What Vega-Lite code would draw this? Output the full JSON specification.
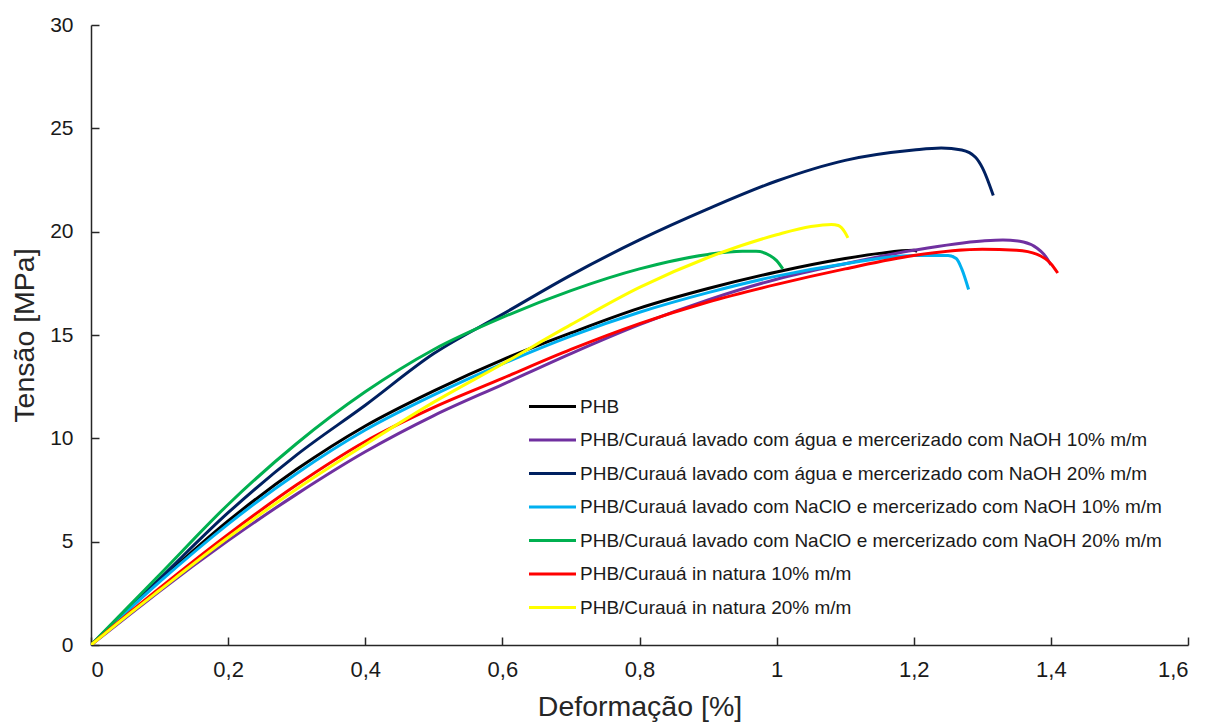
{
  "$schema": "https://vega.github.io/schema/vega-lite/v6.json",
  "autosize": {"type": "none"},
  "width": 1097,
  "height": 620,
  "padding": {"left": 91, "top": 25, "right": 20, "bottom": 77},
  "background": "white",
  "config": {
    "view": {"stroke": null},
    "font": "Liberation Sans",
    "axis": {
      "grid": false,
      "domainColor": "#262626",
      "domainWidth": 1.5,
      "tickColor": "#262626",
      "tickWidth": 1.5,
      "labelFont": "Liberation Sans",
      "labelColor": "#1a1a1a",
      "titleFont": "Liberation Sans",
      "titleFontSize": 28.5,
      "titleFontWeight": "normal",
      "titleColor": "#262626"
    }
  },
  "data": {
    "values": [
      {"serie": "PHB", "x": 0, "y": 0},
      {"serie": "PHB", "x": 0.05, "y": 1.58},
      {"serie": "PHB", "x": 0.1, "y": 3.1},
      {"serie": "PHB", "x": 0.2, "y": 6.0},
      {"serie": "PHB", "x": 0.3, "y": 8.5},
      {"serie": "PHB", "x": 0.4, "y": 10.6},
      {"serie": "PHB", "x": 0.5, "y": 12.3},
      {"serie": "PHB", "x": 0.6, "y": 13.8},
      {"serie": "PHB", "x": 0.7, "y": 15.1},
      {"serie": "PHB", "x": 0.8, "y": 16.3},
      {"serie": "PHB", "x": 0.9, "y": 17.25},
      {"serie": "PHB", "x": 1.0, "y": 18.05},
      {"serie": "PHB", "x": 1.1, "y": 18.7},
      {"serie": "PHB", "x": 1.15, "y": 18.95},
      {"serie": "PHB", "x": 1.2, "y": 19.1},
      {"serie": "PHB", "x": 1.205, "y": 19.05},

      {"serie": "PHB/Curauá lavado com água e mercerizado com NaOH 10% m/m", "x": 0, "y": 0},
      {"serie": "PHB/Curauá lavado com água e mercerizado com NaOH 10% m/m", "x": 0.05, "y": 1.3},
      {"serie": "PHB/Curauá lavado com água e mercerizado com NaOH 10% m/m", "x": 0.1, "y": 2.6},
      {"serie": "PHB/Curauá lavado com água e mercerizado com NaOH 10% m/m", "x": 0.2, "y": 5.05},
      {"serie": "PHB/Curauá lavado com água e mercerizado com NaOH 10% m/m", "x": 0.3, "y": 7.3},
      {"serie": "PHB/Curauá lavado com água e mercerizado com NaOH 10% m/m", "x": 0.4, "y": 9.35},
      {"serie": "PHB/Curauá lavado com água e mercerizado com NaOH 10% m/m", "x": 0.5, "y": 11.1},
      {"serie": "PHB/Curauá lavado com água e mercerizado com NaOH 10% m/m", "x": 0.6, "y": 12.6},
      {"serie": "PHB/Curauá lavado com água e mercerizado com NaOH 10% m/m", "x": 0.7, "y": 14.1},
      {"serie": "PHB/Curauá lavado com água e mercerizado com NaOH 10% m/m", "x": 0.8, "y": 15.5},
      {"serie": "PHB/Curauá lavado com água e mercerizado com NaOH 10% m/m", "x": 0.9, "y": 16.7},
      {"serie": "PHB/Curauá lavado com água e mercerizado com NaOH 10% m/m", "x": 1.0, "y": 17.7},
      {"serie": "PHB/Curauá lavado com água e mercerizado com NaOH 10% m/m", "x": 1.1, "y": 18.45},
      {"serie": "PHB/Curauá lavado com água e mercerizado com NaOH 10% m/m", "x": 1.2, "y": 19.1},
      {"serie": "PHB/Curauá lavado com água e mercerizado com NaOH 10% m/m", "x": 1.3, "y": 19.55},
      {"serie": "PHB/Curauá lavado com água e mercerizado com NaOH 10% m/m", "x": 1.33, "y": 19.6},
      {"serie": "PHB/Curauá lavado com água e mercerizado com NaOH 10% m/m", "x": 1.36, "y": 19.5},
      {"serie": "PHB/Curauá lavado com água e mercerizado com NaOH 10% m/m", "x": 1.38, "y": 19.2},
      {"serie": "PHB/Curauá lavado com água e mercerizado com NaOH 10% m/m", "x": 1.39, "y": 18.9},
      {"serie": "PHB/Curauá lavado com água e mercerizado com NaOH 10% m/m", "x": 1.4, "y": 18.4},

      {"serie": "PHB/Curauá lavado com água e mercerizado com NaOH 20% m/m", "x": 0, "y": 0},
      {"serie": "PHB/Curauá lavado com água e mercerizado com NaOH 20% m/m", "x": 0.05, "y": 1.6},
      {"serie": "PHB/Curauá lavado com água e mercerizado com NaOH 20% m/m", "x": 0.1, "y": 3.2},
      {"serie": "PHB/Curauá lavado com água e mercerizado com NaOH 20% m/m", "x": 0.2, "y": 6.4},
      {"serie": "PHB/Curauá lavado com água e mercerizado com NaOH 20% m/m", "x": 0.3, "y": 9.2},
      {"serie": "PHB/Curauá lavado com água e mercerizado com NaOH 20% m/m", "x": 0.4, "y": 11.6},
      {"serie": "PHB/Curauá lavado com água e mercerizado com NaOH 20% m/m", "x": 0.5, "y": 14.1},
      {"serie": "PHB/Curauá lavado com água e mercerizado com NaOH 20% m/m", "x": 0.6, "y": 16.0},
      {"serie": "PHB/Curauá lavado com água e mercerizado com NaOH 20% m/m", "x": 0.7, "y": 17.9},
      {"serie": "PHB/Curauá lavado com água e mercerizado com NaOH 20% m/m", "x": 0.8, "y": 19.6},
      {"serie": "PHB/Curauá lavado com água e mercerizado com NaOH 20% m/m", "x": 0.9, "y": 21.1},
      {"serie": "PHB/Curauá lavado com água e mercerizado com NaOH 20% m/m", "x": 1.0, "y": 22.45},
      {"serie": "PHB/Curauá lavado com água e mercerizado com NaOH 20% m/m", "x": 1.1, "y": 23.45},
      {"serie": "PHB/Curauá lavado com água e mercerizado com NaOH 20% m/m", "x": 1.2, "y": 23.95},
      {"serie": "PHB/Curauá lavado com água e mercerizado com NaOH 20% m/m", "x": 1.24, "y": 24.05},
      {"serie": "PHB/Curauá lavado com água e mercerizado com NaOH 20% m/m", "x": 1.27, "y": 23.95},
      {"serie": "PHB/Curauá lavado com água e mercerizado com NaOH 20% m/m", "x": 1.29, "y": 23.6},
      {"serie": "PHB/Curauá lavado com água e mercerizado com NaOH 20% m/m", "x": 1.3, "y": 23.1},
      {"serie": "PHB/Curauá lavado com água e mercerizado com NaOH 20% m/m", "x": 1.316, "y": 21.75},

      {"serie": "PHB/Curauá lavado com NaClO e mercerizado com NaOH 10% m/m", "x": 0, "y": 0},
      {"serie": "PHB/Curauá lavado com NaClO e mercerizado com NaOH 10% m/m", "x": 0.05, "y": 1.55},
      {"serie": "PHB/Curauá lavado com NaClO e mercerizado com NaOH 10% m/m", "x": 0.1, "y": 3.05},
      {"serie": "PHB/Curauá lavado com NaClO e mercerizado com NaOH 10% m/m", "x": 0.2, "y": 5.85},
      {"serie": "PHB/Curauá lavado com NaClO e mercerizado com NaOH 10% m/m", "x": 0.3, "y": 8.3},
      {"serie": "PHB/Curauá lavado com NaClO e mercerizado com NaOH 10% m/m", "x": 0.4, "y": 10.4},
      {"serie": "PHB/Curauá lavado com NaClO e mercerizado com NaOH 10% m/m", "x": 0.5, "y": 12.1},
      {"serie": "PHB/Curauá lavado com NaClO e mercerizado com NaOH 10% m/m", "x": 0.6, "y": 13.6},
      {"serie": "PHB/Curauá lavado com NaClO e mercerizado com NaOH 10% m/m", "x": 0.7, "y": 14.95},
      {"serie": "PHB/Curauá lavado com NaClO e mercerizado com NaOH 10% m/m", "x": 0.8, "y": 16.1},
      {"serie": "PHB/Curauá lavado com NaClO e mercerizado com NaOH 10% m/m", "x": 0.9, "y": 17.05},
      {"serie": "PHB/Curauá lavado com NaClO e mercerizado com NaOH 10% m/m", "x": 1.0, "y": 17.85},
      {"serie": "PHB/Curauá lavado com NaClO e mercerizado com NaOH 10% m/m", "x": 1.1, "y": 18.45},
      {"serie": "PHB/Curauá lavado com NaClO e mercerizado com NaOH 10% m/m", "x": 1.2, "y": 18.85},
      {"serie": "PHB/Curauá lavado com NaClO e mercerizado com NaOH 10% m/m", "x": 1.25, "y": 18.85},
      {"serie": "PHB/Curauá lavado com NaClO e mercerizado com NaOH 10% m/m", "x": 1.262, "y": 18.7},
      {"serie": "PHB/Curauá lavado com NaClO e mercerizado com NaOH 10% m/m", "x": 1.27, "y": 18.2},
      {"serie": "PHB/Curauá lavado com NaClO e mercerizado com NaOH 10% m/m", "x": 1.28, "y": 17.2},

      {"serie": "PHB/Curauá lavado com NaClO e mercerizado com NaOH 20% m/m", "x": 0, "y": 0},
      {"serie": "PHB/Curauá lavado com NaClO e mercerizado com NaOH 20% m/m", "x": 0.05, "y": 1.7},
      {"serie": "PHB/Curauá lavado com NaClO e mercerizado com NaOH 20% m/m", "x": 0.1, "y": 3.4},
      {"serie": "PHB/Curauá lavado com NaClO e mercerizado com NaOH 20% m/m", "x": 0.2, "y": 6.8},
      {"serie": "PHB/Curauá lavado com NaClO e mercerizado com NaOH 20% m/m", "x": 0.3, "y": 9.75},
      {"serie": "PHB/Curauá lavado com NaClO e mercerizado com NaOH 20% m/m", "x": 0.4, "y": 12.25},
      {"serie": "PHB/Curauá lavado com NaClO e mercerizado com NaOH 20% m/m", "x": 0.5, "y": 14.3},
      {"serie": "PHB/Curauá lavado com NaClO e mercerizado com NaOH 20% m/m", "x": 0.6, "y": 15.85},
      {"serie": "PHB/Curauá lavado com NaClO e mercerizado com NaOH 20% m/m", "x": 0.7, "y": 17.15},
      {"serie": "PHB/Curauá lavado com NaClO e mercerizado com NaOH 20% m/m", "x": 0.8, "y": 18.2},
      {"serie": "PHB/Curauá lavado com NaClO e mercerizado com NaOH 20% m/m", "x": 0.9, "y": 18.9},
      {"serie": "PHB/Curauá lavado com NaClO e mercerizado com NaOH 20% m/m", "x": 0.95, "y": 19.05},
      {"serie": "PHB/Curauá lavado com NaClO e mercerizado com NaOH 20% m/m", "x": 0.97, "y": 19.05},
      {"serie": "PHB/Curauá lavado com NaClO e mercerizado com NaOH 20% m/m", "x": 0.99, "y": 18.85},
      {"serie": "PHB/Curauá lavado com NaClO e mercerizado com NaOH 20% m/m", "x": 1.0, "y": 18.6},
      {"serie": "PHB/Curauá lavado com NaClO e mercerizado com NaOH 20% m/m", "x": 1.009, "y": 18.2},

      {"serie": "PHB/Curauá in natura 10% m/m", "x": 0, "y": 0},
      {"serie": "PHB/Curauá in natura 10% m/m", "x": 0.05, "y": 1.4},
      {"serie": "PHB/Curauá in natura 10% m/m", "x": 0.1, "y": 2.75},
      {"serie": "PHB/Curauá in natura 10% m/m", "x": 0.2, "y": 5.35},
      {"serie": "PHB/Curauá in natura 10% m/m", "x": 0.3, "y": 7.75},
      {"serie": "PHB/Curauá in natura 10% m/m", "x": 0.4, "y": 9.85},
      {"serie": "PHB/Curauá in natura 10% m/m", "x": 0.5, "y": 11.5},
      {"serie": "PHB/Curauá in natura 10% m/m", "x": 0.6, "y": 12.9},
      {"serie": "PHB/Curauá in natura 10% m/m", "x": 0.7, "y": 14.3},
      {"serie": "PHB/Curauá in natura 10% m/m", "x": 0.8, "y": 15.55},
      {"serie": "PHB/Curauá in natura 10% m/m", "x": 0.9, "y": 16.6},
      {"serie": "PHB/Curauá in natura 10% m/m", "x": 1.0, "y": 17.45},
      {"serie": "PHB/Curauá in natura 10% m/m", "x": 1.1, "y": 18.2},
      {"serie": "PHB/Curauá in natura 10% m/m", "x": 1.2, "y": 18.85},
      {"serie": "PHB/Curauá in natura 10% m/m", "x": 1.3, "y": 19.15},
      {"serie": "PHB/Curauá in natura 10% m/m", "x": 1.35, "y": 19.1},
      {"serie": "PHB/Curauá in natura 10% m/m", "x": 1.38, "y": 18.9},
      {"serie": "PHB/Curauá in natura 10% m/m", "x": 1.4, "y": 18.45},
      {"serie": "PHB/Curauá in natura 10% m/m", "x": 1.41, "y": 18.0},

      {"serie": "PHB/Curauá in natura 20% m/m", "x": 0, "y": 0},
      {"serie": "PHB/Curauá in natura 20% m/m", "x": 0.05, "y": 1.35},
      {"serie": "PHB/Curauá in natura 20% m/m", "x": 0.1, "y": 2.65},
      {"serie": "PHB/Curauá in natura 20% m/m", "x": 0.2, "y": 5.2},
      {"serie": "PHB/Curauá in natura 20% m/m", "x": 0.3, "y": 7.55},
      {"serie": "PHB/Curauá in natura 20% m/m", "x": 0.4, "y": 9.7},
      {"serie": "PHB/Curauá in natura 20% m/m", "x": 0.5, "y": 11.75},
      {"serie": "PHB/Curauá in natura 20% m/m", "x": 0.6, "y": 13.6},
      {"serie": "PHB/Curauá in natura 20% m/m", "x": 0.7, "y": 15.5},
      {"serie": "PHB/Curauá in natura 20% m/m", "x": 0.8, "y": 17.3},
      {"serie": "PHB/Curauá in natura 20% m/m", "x": 0.9, "y": 18.75},
      {"serie": "PHB/Curauá in natura 20% m/m", "x": 1.0, "y": 19.85},
      {"serie": "PHB/Curauá in natura 20% m/m", "x": 1.05, "y": 20.25},
      {"serie": "PHB/Curauá in natura 20% m/m", "x": 1.08, "y": 20.35},
      {"serie": "PHB/Curauá in natura 20% m/m", "x": 1.09, "y": 20.3},
      {"serie": "PHB/Curauá in natura 20% m/m", "x": 1.1, "y": 19.95},
      {"serie": "PHB/Curauá in natura 20% m/m", "x": 1.104, "y": 19.7}
    ]
  },
  "mark": {"type": "line", "strokeWidth": 3, "interpolate": "monotone", "clip": true},
  "encoding": {
    "x": {
      "field": "x",
      "type": "quantitative",
      "scale": {"domain": [0, 1.6], "nice": false, "zero": true},
      "axis": {
        "title": "Deformação [%]",
        "values": [0, 0.2, 0.4, 0.6, 0.8, 1, 1.2, 1.4, 1.6],
        "format": ".1~f",
        "labelExpr": "replace(datum.label, '.', ',')",
        "labelFontSize": 22,
        "tickSize": -8,
        "labelPadding": 22,
        "titlePadding": 12
      }
    },
    "y": {
      "field": "y",
      "type": "quantitative",
      "scale": {"domain": [0, 30], "nice": false},
      "axis": {
        "title": "Tensão [MPa]",
        "values": [0, 5, 10, 15, 20, 25, 30],
        "labelFontSize": 21,
        "tickSize": -8,
        "labelPadding": 26,
        "titlePadding": 10
      }
    },
    "color": {
      "field": "serie",
      "type": "nominal",
      "sort": null,
      "scale": {
        "domain": [
          "PHB",
          "PHB/Curauá lavado com água e mercerizado com NaOH 10% m/m",
          "PHB/Curauá lavado com água e mercerizado com NaOH 20% m/m",
          "PHB/Curauá lavado com NaClO e mercerizado com NaOH 10% m/m",
          "PHB/Curauá lavado com NaClO e mercerizado com NaOH 20% m/m",
          "PHB/Curauá in natura 10% m/m",
          "PHB/Curauá in natura 20% m/m"
        ],
        "range": ["#000000", "#7030A0", "#002060", "#00B0F0", "#00B050", "#FF0000", "#FFFF00"]
      },
      "legend": {
        "title": null,
        "orient": "none",
        "legendX": 448,
        "legendY": 368,
        "symbolType": "M-2,0H2",
        "symbolSize": 552,
        "symbolStrokeWidth": 3,
        "labelFont": "Liberation Sans",
        "labelFontSize": 19,
        "labelColor": "#1a1a1a",
        "labelLimit": 800,
        "rowPadding": 9.5,
        "labelOffset": 14
      }
    }
  }
}
